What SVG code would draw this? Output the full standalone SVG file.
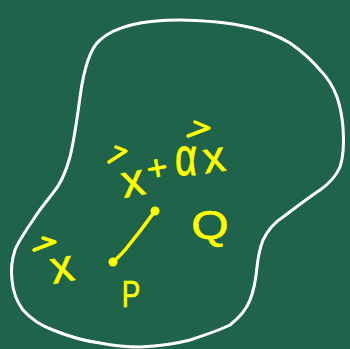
<svg xmlns="http://www.w3.org/2000/svg" width="350" height="349" viewBox="0 0 350 349">
<style>
.t{font-family:"Liberation Sans",Arial,sans-serif;fill:#ffff00;stroke:#ffff00;stroke-width:0.6;text-anchor:middle}
.v{fill:none;stroke:#ffff00;stroke-width:3.5;stroke-linecap:round;stroke-linejoin:round}
</style>
<rect width="350" height="349" fill="#1f644a"/>
<path id="region" d="M180,20 C160,20 120,22 100,40 C88,50 83,75 80,97 C77,120 74,140 70,157 C65,175 60,185 53,193 C45,203 38,212 33,220 C25,232 18,242 15,250 C11,262 11,272 12,280 C13,292 17,302 23,310 C32,320 42,326 53,330 C70,337 85,341 100,343 C115,346 128,347 140,347 C160,346 175,344 190,340 C205,335 220,330 230,325 C240,317 247,308 250,300 C254,290 256,278 257,267 C258,257 260,248 263,240 C268,230 275,222 283,217 C295,208 308,198 320,190 C330,183 336,176 340,167 C344,155 344,140 343,127 C342,115 340,106 337,97 C333,86 328,78 320,70 C310,58 300,50 290,43 C278,36 266,31 253,28 C240,25 228,23 217,22 C205,21 192,20 180,20 Z" fill="none" stroke="#ffffff" stroke-width="3"/>
<g id="vectors">
<path class="v" d="M116,147 L126,151 L109,162"/>
<path class="v" d="M195,122 L209,128 L188,136"/>
<path class="v" d="M43,238 L55,242 L34,250"/>
</g>
<g id="sum">
<text class="t" x="133" y="196" font-size="46" transform="rotate(-10 133 182)">x</text>
<text class="t" x="157" y="180" font-size="36" transform="rotate(-10 157 168)">+</text>
<text class="t" x="186" y="175" font-size="40" transform="translate(186 175) scale(0.95 1.35) translate(-186 -175)">α</text>
<text class="t" x="214" y="172" font-size="44" transform="rotate(-8 214 159)">x</text>
</g>
<g id="x">
<text class="t" x="62" y="282" font-size="46" transform="rotate(-10 62 268)">x</text>
</g>
<g id="segment">
<path class="v" d="M155,211 C145,225 135,238 125,250 C120,256 116,259 113,262"/>
<circle cx="155" cy="211" r="4.5" fill="#ffff00"/>
<circle cx="113" cy="262" r="4.5" fill="#ffff00"/>
</g>
<g id="P">
<text class="t" x="131" y="307" font-size="37" transform="translate(131 307) scale(0.75 1) translate(-131 -307)">P</text>
</g>
<g id="Q">
<text class="t" x="210" y="239" font-size="40" transform="translate(210 239) scale(1.2 1) translate(-210 -239)">Q</text>
</g>
</svg>
